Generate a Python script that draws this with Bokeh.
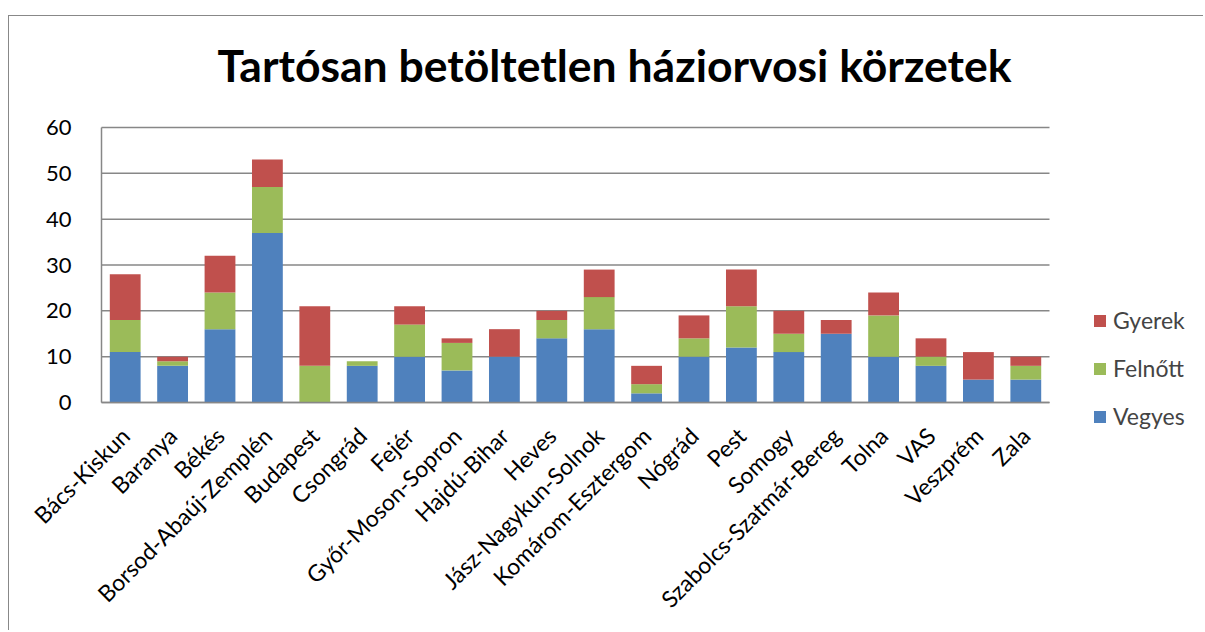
import math
from bokeh.plotting import figure
from bokeh.models import (ColumnDataSource, Range1d, Legend, LegendItem, FixedTicker, Label)
from bokeh.embed import file_html
from bokeh.resources import INLINE

# ---- data ----
megyek = ["Bács-Kiskun", "Baranya", "Békés", "Borsod-Abaúj-Zemplén", "Budapest",
          "Csongrád", "Fejér", "Győr-Moson-Sopron", "Hajdú-Bihar", "Heves",
          "Jász-Nagykun-Solnok", "Komárom-Esztergom", "Nógrád", "Pest", "Somogy",
          "Szabolcs-Szatmár-Bereg", "Tolna", "VAS", "Veszprém", "Zala"]
vegyes = [11, 8, 16, 37, 0, 8, 10, 7, 10, 14, 16, 2, 10, 12, 11, 15, 10, 8, 5, 5]
felnott = [7, 1, 8, 10, 8, 1, 7, 6, 0, 4, 7, 2, 4, 9, 4, 0, 9, 2, 0, 3]
gyerek = [10, 1, 8, 6, 13, 0, 4, 1, 6, 2, 6, 4, 5, 8, 5, 3, 5, 4, 6, 2]
y_ticks = [0, 10, 20, 30, 40, 50, 60]
series_keys = ["vegyes", "felnott", "gyerek"]
series_labels = ["Vegyes", "Felnőtt", "Gyerek"]
series_colors = ["#4F81BD", "#9BBB59", "#C0504D"]
title_text = "Tartósan betöltetlen háziorvosi körzetek"

FONT = "Lato"
GRID = "#878787"

# ---- layout geometry (pixels on the canvas) ----
W, H = 1195, 615
LEFT = 92                          # x of the category area's left edge
PLOT_W = 948                       # width of the category area
PLOT_TOP, PLOT_BOTTOM = 111, 386   # y of value 60 and of value 0
YMAX = 60
n = len(megyek)
px_per_cat = PLOT_W / n
px_per_unit = (PLOT_BOTTOM - PLOT_TOP) / YMAX
x_start = -LEFT / px_per_cat
x_end = (W - LEFT) / px_per_cat
y_start = -(H - PLOT_BOTTOM) / px_per_unit
y_end = YMAX + PLOT_TOP / px_per_unit

pos = [i + 0.5 for i in range(n)]
source = ColumnDataSource(dict(x=pos, megye=megyek, vegyes=vegyes, felnott=felnott, gyerek=gyerek))

p = figure(x_range=Range1d(x_start, x_end), y_range=Range1d(y_start, y_end), width=W, height=H,
           output_backend="svg", toolbar_location=None,
           min_border_left=0, min_border_right=0, min_border_top=0, min_border_bottom=0)
p.styles = {"margin-left": "8px", "margin-top": "15px",
            "border-left": "1px solid #888888", "border-top": "1px solid #888888"}
p.title.visible = False
p.outline_line_color = None
p.xgrid.visible = False
p.ygrid.visible = False

# horizontal grid lines at the value ticks, across the category area
p.segment(x0=[0] * len(y_ticks), x1=[n] * len(y_ticks), y0=y_ticks, y1=y_ticks,
          line_color=GRID, line_width=1.5)

renderers = p.vbar_stack(series_keys, x="x", width=0.65, color=series_colors,
                         line_color=None, source=source)

# title (centred over the chart)
title_cx = (513) / px_per_cat          # 513 px right of the category area's left edge
title_base = YMAX + (PLOT_TOP - 48) / px_per_unit
p.add_layout(Label(x=title_cx, y=title_base, text=title_text,
                   text_align="center", text_baseline="alphabetic",
                   text_font=FONT, text_font_size="44.5px", text_font_style="bold",
                   text_color="black"))

# y axis drawn at the left edge of the category area
p.yaxis.fixed_location = 0
p.yaxis.ticker = FixedTicker(ticks=y_ticks)
p.yaxis.bounds = (0, YMAX)
p.yaxis.major_label_text_font = FONT
p.yaxis.major_label_text_font_size = "22px"
p.yaxis.major_label_text_color = "black"
p.yaxis.major_tick_line_color = None
p.yaxis.minor_tick_line_color = None
p.yaxis.major_label_standoff = 24
p.yaxis.axis_line_color = GRID
p.yaxis.axis_line_width = 1.5

# x axis drawn at value 0
p.xaxis.fixed_location = 0
p.xaxis.bounds = (0, n)
p.xaxis.ticker = FixedTicker(ticks=pos)
p.xaxis.major_label_overrides = {x: m for x, m in zip(pos, megyek)}
p.xaxis.major_label_orientation = math.pi / 4
p.xaxis.major_label_text_font = FONT
p.xaxis.major_label_text_font_size = "23px"
p.xaxis.major_label_text_color = "black"
p.xaxis.major_tick_line_color = None
p.xaxis.minor_tick_line_color = None
p.xaxis.major_label_standoff = 23
p.xaxis.axis_line_color = GRID
p.xaxis.axis_line_width = 1.5

legend = Legend(items=[LegendItem(label=series_labels[2], renderers=[renderers[2]]),
                       LegendItem(label=series_labels[1], renderers=[renderers[1]]),
                       LegendItem(label=series_labels[0], renderers=[renderers[0]])],
                location=(LEFT + 991, 201), orientation="vertical",
                glyph_width=15, glyph_height=15, label_height=15, spacing=20,
                padding=0, margin=0, border_line_color=None, background_fill_alpha=0,
                label_text_font=FONT, label_text_font_size="23px", label_standoff=6)
p.add_layout(legend, "center")

open("out.html", "w").write(file_html(p, INLINE))
